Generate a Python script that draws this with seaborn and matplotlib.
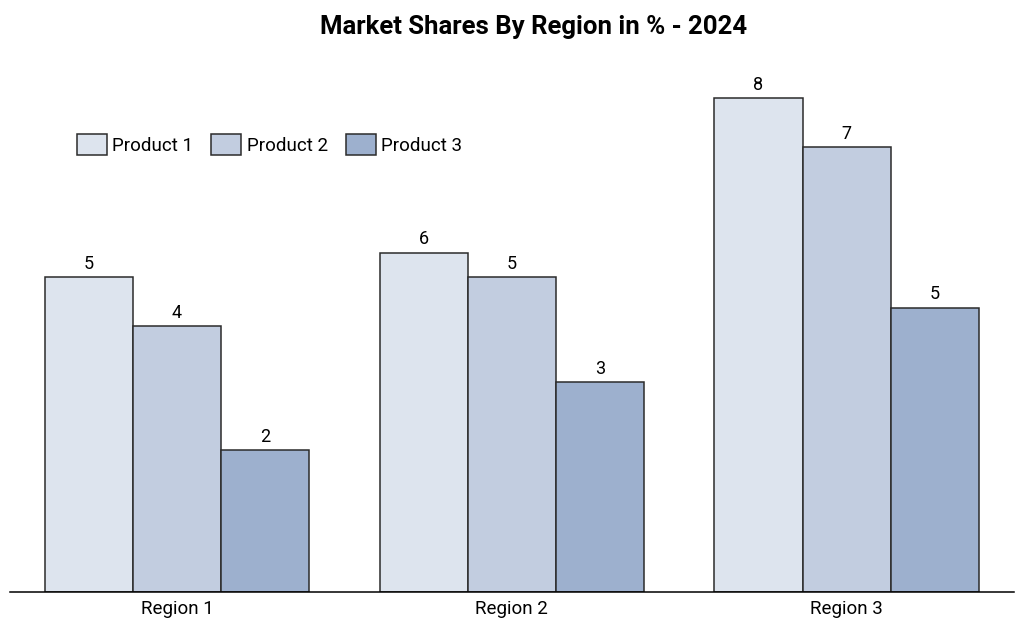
import pandas as pd
import seaborn as sns
import matplotlib.pyplot as plt

regions = ["Region 1", "Region 2", "Region 3"]
products = ["Product 1", "Product 2", "Product 3"]
product1 = [5.21, 5.61, 8.17]
product2 = [4.40, 5.21, 7.36]
product3 = [2.35, 3.47, 4.70]
colors = ["#DDE4EE", "#C2CDE0", "#9DB0CE"]

df = pd.DataFrame({
    "Region": regions * 3,
    "Product": [p for p in products for _ in regions],
    "Share": product1 + product2 + product3,
})

sns.set_style("white")
plt.rcParams["font.family"] = ["Roboto", "DejaVu Sans"]
plt.rcParams["text.color"] = "black"
plt.rcParams["xtick.color"] = "black"

fig = plt.figure(figsize=(10.24, 6.35), dpi=100)
ax = fig.add_axes([0.0093, 0.0677, 0.981, 0.8575])

sns.barplot(data=df, x="Region", y="Share", hue="Product", palette=colors,
            saturation=1, width=0.79, edgecolor="#2b2b2b", linewidth=1.1, ax=ax)

for c in ax.containers:
    ax.bar_label(c, fmt="{:.0f}", padding=3, fontsize=13, color="black")

ax.set_xlim(-0.5, 2.5)
ax.set_ylim(0, 9)
ax.set_xlabel("")
ax.set_ylabel("")
ax.set_yticks([])
ax.tick_params(axis="x", length=0, pad=6, labelsize=13.5)
for s in ["left", "right", "top"]:
    ax.spines[s].set_visible(False)
ax.spines["bottom"].set_color("black")
ax.spines["bottom"].set_linewidth(1.1)

ax.legend(loc="center left", bbox_to_anchor=(0.067, 0.822), ncol=3, frameon=False,
          fontsize=13.5, handlelength=1.6, handleheight=1.4, handletextpad=0.3,
          columnspacing=0.95, borderaxespad=0, borderpad=0)

fig.text(0.5215, 0.957, "Market Shares By Region in % - 2024", ha="center", va="center",
         fontsize=18.5, fontweight="bold")

fig.savefig("out.png", dpi=100)
